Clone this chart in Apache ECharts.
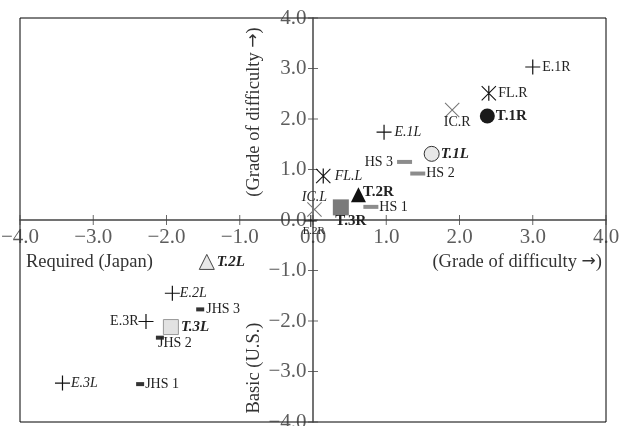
<!DOCTYPE html>
<html>
<head>
<meta charset="utf-8">
<script src="https://cdn.jsdelivr.net/npm/echarts@6/dist/echarts.min.js"></script>
<style>
  html, body { margin: 0; padding: 0; background: #fff; }
  #chart { width: 623px; height: 426px; }
</style>
</head>
<body>
<div id="chart"></div>
<script>
// ---- data ----
const pointNames = ['E.1R','E.1L','E.2R','E.2L','E.3R','E.3L',
                    'FL.R','FL.L','IC.R','IC.L',
                    'T.1R','T.1L','T.2R','T.2L','T.3R','T.3L',
                    'HS 1','HS 2','HS 3','JHS 1','JHS 2','JHS 3'];
const xValues = [3.00, 0.97, -0.03, -1.92, -2.28, -3.42,
                 2.40, 0.14, 1.90, 0.02,
                 2.38, 1.62, 0.62, -1.45, 0.38, -1.94,
                 0.79, 1.43, 1.25, -2.36, -2.09, -1.54];
const yValues = [3.03, 1.74, -0.02, -1.45, -2.01, -3.23,
                 2.51, 0.87, 2.18, 0.21,
                 2.06, 1.31, 0.50, -0.83, 0.25, -2.12,
                 0.26, 0.92, 1.15, -3.25, -2.33, -1.77];
const tickValues = [-4, -3, -2, -1, 0, 1, 2, 3, 4];

// ---- styles ----
const SERIF = '"Liberation Serif", "DejaVu Serif", serif';
const SYM = {
  plus: 'path://M0,4.6H10V5.4H0Z M4.6,0H5.4V10H4.6Z',
  cross: 'path://M0,0.5L0.5,0L10,9.5L9.5,10Z M9.5,0L10,0.5L0.5,10L0,9.5Z',
  star: 'path://M0,0.5L0.5,0L10,9.5L9.5,10Z M9.5,0L10,0.5L0.5,10L0,9.5Z M4.6,0H5.4V10H4.6Z',
  circle: 'circle', triangle: 'triangle', rect: 'rect'
};
const styleOf = {
  'E.1R': {shape:'plus', size:15, color:'#111', pos:'right', dist:2},
  'E.1L': {shape:'plus', size:15, color:'#111', pos:'right', dist:3, italic:true},
  'E.2R': {shape:'plus', size:12, color:'#111', pos:'bottom', dist:0, fs:11, off:[3,-1]},
  'E.2L': {shape:'plus', size:15, color:'#111', pos:'right', dist:0, italic:true},
  'E.3R': {shape:'plus', size:15, color:'#111', pos:'left', dist:0},
  'E.3L': {shape:'plus', size:15, color:'#111', pos:'right', dist:1, italic:true},
  'FL.R': {shape:'star', size:15, color:'#111', pos:'right', dist:2},
  'FL.L': {shape:'star', size:15, color:'#111', pos:'right', dist:4, italic:true},
  'IC.R': {shape:'cross', size:15, color:'#777', pos:'bottom', dist:0, off:[5,-2]},
  'IC.L': {shape:'cross', size:15, color:'#777', pos:'top', dist:0, italic:true, off:[0,2]},
  'T.1R': {shape:'circle', size:15, color:'#1a1a1a', pos:'right', dist:1, bold:true, fs:15},
  'T.1L': {shape:'circle', size:15, color:'#e8e8e8', border:'#333', pos:'right', dist:1, bold:true, italic:true, fs:15},
  'T.2R': {shape:'triangle', size:15, color:'#111', pos:'right', dist:-3, bold:true, fs:15, off:[0,-3]},
  'T.2L': {shape:'triangle', size:15, color:'#e8e8e8', border:'#444', pos:'right', dist:2, bold:true, italic:true, fs:15},
  'T.3R': {shape:'rect', size:16, color:'#7a7a7a', pos:'bottom', dist:-2, bold:true, fs:15, off:[10,0]},
  'T.3L': {shape:'rect', size:15, color:'#e2e2e2', border:'#999', pos:'right', dist:2, bold:true, italic:true, fs:15},
  'HS 1': {shape:'rect', size:[15,4], color:'#8c8c8c', pos:'right', dist:1},
  'HS 2': {shape:'rect', size:[15,4], color:'#8c8c8c', pos:'right', dist:1},
  'HS 3': {shape:'rect', size:[15,4], color:'#8c8c8c', pos:'left', dist:4},
  'JHS 1': {shape:'rect', size:[8,4], color:'#333', pos:'right', dist:1},
  'JHS 2': {shape:'rect', size:[8,4], color:'#333', pos:'bottom', dist:-3, off:[15,0]},
  'JHS 3': {shape:'rect', size:[8,4], color:'#333', pos:'right', dist:2}
};

const fmt = v => (v < 0 ? '\u2212' + Math.abs(v).toFixed(1) : v.toFixed(1));

const pointSeries = pointNames.map((n, i) => {
  const s = styleOf[n];
  return {
    type: 'scatter',
    name: n,
    symbol: SYM[s.shape],
    symbolSize: s.size,
    silent: true,
    animation: false,
    z: 5,
    itemStyle: {
      color: s.color,
      borderColor: s.border || s.color,
      borderWidth: s.border ? 1 : 0,
      opacity: 1
    },
    label: {
      show: true,
      formatter: () => n,
      position: s.pos,
      distance: s.dist,
      offset: s.off || [0, 0],
      fontFamily: SERIF,
      fontSize: s.fs || 14,
      fontStyle: s.italic ? 'italic' : 'normal',
      fontWeight: s.bold ? 'bold' : 'normal',
      color: '#222'
    },
    data: [[xValues[i], yValues[i]]]
  };
});

// crossing tick marks and tick labels placed on the axes through the scales
const tickLabelStyle = { show: true, fontFamily: SERIF, fontSize: 21, color: '#333' };
const axisDecor = [
  { type: 'scatter', silent: true, z: 3, symbol: 'rect', symbolSize: [1, 10],
    itemStyle: { color: '#444' }, data: tickValues.map(v => [v, 0]) },
  { type: 'scatter', silent: true, z: 3, symbol: 'rect', symbolSize: [10, 1],
    itemStyle: { color: '#444' }, data: tickValues.map(v => [0, v]) },
  { type: 'scatter', silent: true, z: 4, symbolSize: 1, itemStyle: { color: 'rgba(0,0,0,0)' },
    label: Object.assign({}, tickLabelStyle, { position: 'bottom', distance: 6,
      formatter: p => fmt(p.value[0]) }),
    data: tickValues.map(v => [v, 0]) },
  { type: 'scatter', silent: true, z: 4, symbolSize: 1, itemStyle: { color: 'rgba(0,0,0,0)' },
    label: Object.assign({}, tickLabelStyle, { position: 'left', distance: 6,
      formatter: p => fmt(p.value[1]) }),
    data: tickValues.map(v => [0, v]) }
];

const axisBase = (position) => ({
  type: 'value',
  min: tickValues[0],
  max: tickValues[tickValues.length - 1],
  interval: 1,
  position: position,
  axisLine: { show: true, onZero: true, lineStyle: { color: '#444', width: 1.5 } },
  axisTick: { show: false },
  axisLabel: { show: false },
  splitLine: { show: false }
});

const titleFont = '18.5px ' + SERIF;
const arrowRich = { a: { fontFamily: '"DejaVu Sans"', fontSize: 17, fill: '#333' } };

const chart = echarts.init(document.getElementById('chart'), null, { renderer: 'canvas' });
chart.setOption({
  animation: false,
  backgroundColor: '#fff',
  grid: {
    left: 20, right: 17, top: 18, bottom: 4,
    show: true, borderColor: '#000', borderWidth: 1,
    containLabel: false, outerBoundsMode: 'none'
  },
  xAxis: [axisBase('bottom')],
  yAxis: [axisBase('left')],
  graphic: [
    { type: 'text', x: 26, y: 262, silent: true,
      style: { text: 'Required (Japan)', font: titleFont, fill: '#333', verticalAlign: 'middle' } },
    { type: 'text', x: 602, y: 262, silent: true,
      style: { text: '(Grade of difficulty {a|\u2192})', font: titleFont, fill: '#333', align: 'right', verticalAlign: 'middle', rich: arrowRich } },
    { type: 'text', x: 254, y: 112, rotation: Math.PI / 2, silent: true,
      style: { text: '(Grade of difficulty {a|\u2192})', font: titleFont, fill: '#333', align: 'center', verticalAlign: 'middle', rich: arrowRich } },
    { type: 'text', x: 254, y: 368, rotation: Math.PI / 2, silent: true,
      style: { text: 'Basic (U.S.)', font: titleFont, fill: '#333', align: 'center', verticalAlign: 'middle' } }
  ],
  series: axisDecor.concat(pointSeries)
});
</script>
</body>
</html>
